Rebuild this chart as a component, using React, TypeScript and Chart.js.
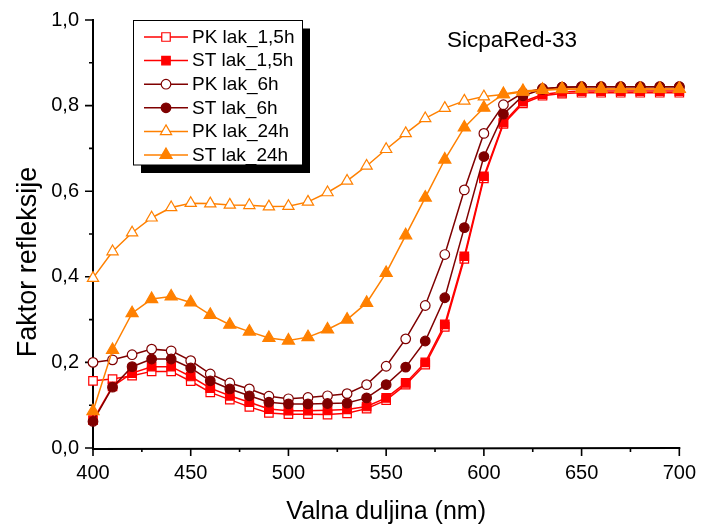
import React, { useEffect, useRef } from 'react';
import { Chart, registerables } from 'chart.js';
import { drawPoint } from 'chart.js/helpers';

Chart.register(...registerables);

// ---- data ----
const wavelengths = [400, 410, 420, 430, 440, 450, 460, 470, 480, 490, 500, 510, 520, 530, 540, 550, 560, 570, 580, 590, 600, 610, 620, 630, 640, 650, 660, 670, 680, 690, 700];

const pkLak15 = [0.157, 0.161, 0.169, 0.179, 0.179, 0.156, 0.130, 0.113, 0.096, 0.082, 0.079, 0.079, 0.078, 0.081, 0.092, 0.112, 0.148, 0.195, 0.283, 0.442, 0.630, 0.757, 0.805, 0.823, 0.828, 0.830, 0.830, 0.830, 0.830, 0.830, 0.830];
const stLak15 = [0.065, 0.144, 0.175, 0.190, 0.190, 0.167, 0.140, 0.122, 0.107, 0.091, 0.087, 0.087, 0.088, 0.090, 0.097, 0.117, 0.152, 0.200, 0.289, 0.448, 0.635, 0.760, 0.809, 0.826, 0.832, 0.834, 0.834, 0.834, 0.834, 0.834, 0.834];
const pkLak6 = [0.200, 0.206, 0.218, 0.231, 0.227, 0.204, 0.173, 0.152, 0.138, 0.121, 0.115, 0.118, 0.122, 0.127, 0.148, 0.191, 0.255, 0.333, 0.452, 0.603, 0.735, 0.802, 0.830, 0.840, 0.843, 0.844, 0.844, 0.844, 0.844, 0.844, 0.844];
const stLak6 = [0.062, 0.142, 0.190, 0.208, 0.208, 0.187, 0.157, 0.138, 0.122, 0.107, 0.103, 0.103, 0.104, 0.105, 0.117, 0.148, 0.189, 0.250, 0.351, 0.515, 0.681, 0.780, 0.823, 0.838, 0.843, 0.844, 0.844, 0.844, 0.844, 0.844, 0.844];
const pkLak24 = [0.397, 0.459, 0.503, 0.538, 0.562, 0.572, 0.571, 0.568, 0.567, 0.564, 0.565, 0.575, 0.597, 0.624, 0.659, 0.698, 0.735, 0.770, 0.794, 0.811, 0.821, 0.826, 0.832, 0.836, 0.838, 0.839, 0.839, 0.839, 0.839, 0.839, 0.839];
const stLak24 = [0.086, 0.229, 0.315, 0.348, 0.354, 0.340, 0.311, 0.288, 0.272, 0.257, 0.251, 0.259, 0.277, 0.300, 0.339, 0.409, 0.497, 0.585, 0.674, 0.749, 0.795, 0.827, 0.834, 0.837, 0.839, 0.839, 0.839, 0.839, 0.839, 0.839, 0.839];

const seriesLabels = ['PK lak_1,5h', 'ST lak_1,5h', 'PK lak_6h', 'ST lak_6h', 'PK lak_24h', 'ST lak_24h'];

const xMajorTicks = [400, 450, 500, 550, 600, 650, 700];
const xMinorTicks = [425, 475, 525, 575, 625, 675];
const yMajorTicks = [0, 0.2, 0.4, 0.6, 0.8, 1.0];
const yMinorTicks = [0.1, 0.3, 0.5, 0.7, 0.9];

const chartTitle = 'SicpaRed-33';
const xTitle = 'Valna duljina (nm)';
const yTitle = 'Faktor refleksije';

const FONT = "'Liberation Sans', Arial, Helvetica, sans-serif";
const RED = '#ff0000';
const MAROON = '#7f0000';
const ORANGE = '#ff8000';

const seriesValues = [pkLak15, stLak15, pkLak6, stLak6, pkLak24, stLak24];
const seriesStyle = [
  { color: RED, style: 'rect', radius: 6, filled: false },
  { color: RED, style: 'rect', radius: 6, filled: true },
  { color: MAROON, style: 'circle', radius: 4.8, filled: false },
  { color: MAROON, style: 'circle', radius: 4.8, filled: true },
  { color: ORANGE, style: 'triangle', radius: 6.5, filled: false },
  { color: ORANGE, style: 'triangle', radius: 7, filled: true },
];

const axesPlugin = {
  id: 'originAxes',
  beforeDatasetsDraw(chart: any) {
    const ctx = chart.ctx;
    const xs = chart.scales.x;
    const ys = chart.scales.y;
    const x0 = xs.getPixelForValue(400);
    const x1 = xs.getPixelForValue(700);
    const y0 = ys.getPixelForValue(0);
    const y1 = ys.getPixelForValue(1);
    ctx.save();
    ctx.strokeStyle = '#000';
    ctx.lineWidth = 2;
    ctx.beginPath();
    ctx.moveTo(x0, y1 - 1);
    ctx.lineTo(x0, y0 + 1);
    ctx.lineTo(x1 + 1, y0);
    ctx.stroke();
    ctx.lineWidth = 1.6;
    ctx.beginPath();
    xMajorTicks.forEach((v) => {
      const p = xs.getPixelForValue(v);
      ctx.moveTo(p, y0);
      ctx.lineTo(p, y0 + 8);
    });
    xMinorTicks.forEach((v) => {
      const p = xs.getPixelForValue(v);
      ctx.moveTo(p, y0);
      ctx.lineTo(p, y0 + 4);
    });
    yMajorTicks.forEach((v) => {
      const p = ys.getPixelForValue(v);
      ctx.moveTo(x0, p);
      ctx.lineTo(x0 - 8, p);
    });
    yMinorTicks.forEach((v) => {
      const p = ys.getPixelForValue(v);
      ctx.moveTo(x0, p);
      ctx.lineTo(x0 - 4, p);
    });
    ctx.stroke();

    // y axis title
    ctx.fillStyle = '#000';
    ctx.font = `27px ${FONT}`;
    ctx.textAlign = 'center';
    ctx.textBaseline = 'middle';
    ctx.translate(29, 262);
    ctx.rotate(-Math.PI / 2);
    ctx.fillText(yTitle, 0, 0);
    ctx.restore();
  },
};

const legendPlugin = {
  id: 'boxLegend',
  afterDatasetsDraw(chart: any) {
    const ctx = chart.ctx;
    const bx = 133.5, by = 20.5, bw = 169, bh = 144.5;
    ctx.save();
    ctx.fillStyle = '#000';
    ctx.fillRect(bx + 7.5, by + 8, bw, bh);
    ctx.fillStyle = '#fff';
    ctx.fillRect(bx, by, bw, bh);
    ctx.strokeStyle = '#000';
    ctx.lineWidth = 1;
    ctx.strokeRect(bx, by, bw, bh);
    chart.data.datasets.forEach((ds: any, i: number) => {
      const y = 37 + i * 23.6;
      ctx.strokeStyle = ds.borderColor;
      ctx.lineWidth = ds.borderWidth;
      ctx.beginPath();
      ctx.moveTo(144, y);
      ctx.lineTo(188, y);
      ctx.stroke();
      ctx.fillStyle = ds.pointBackgroundColor;
      ctx.strokeStyle = ds.pointBorderColor;
      ctx.lineWidth = ds.pointBorderWidth;
      drawPoint(ctx, { pointStyle: ds.pointStyle, radius: ds.pointRadius, borderWidth: ds.pointBorderWidth, rotation: 0 } as any, 166, y);
      ctx.fillStyle = '#000';
      ctx.font = `19px ${FONT}`;
      ctx.textAlign = 'left';
      ctx.textBaseline = 'middle';
      ctx.fillText(ds.label, 192, y + 0.5);
    });
    // chart title inside plot
    ctx.fillStyle = '#000';
    ctx.font = `22.5px ${FONT}`;
    ctx.textAlign = 'left';
    ctx.textBaseline = 'alphabetic';
    ctx.fillText(chartTitle, 447, 46.5);
    ctx.restore();
  },
};

export default function App() {
  const canvasRef = useRef<HTMLCanvasElement | null>(null);

  useEffect(() => {
    const canvas = canvasRef.current;
    if (!canvas) return;
    const datasets = seriesLabels.map((label, i) => {
      const st = seriesStyle[i];
      return {
        label,
        data: wavelengths.map((w, k) => ({ x: w, y: seriesValues[i][k] })),
        borderColor: st.color,
        backgroundColor: st.color,
        borderWidth: 1.5,
        pointStyle: st.style,
        pointRadius: st.radius,
        pointHoverRadius: st.radius,
        pointBackgroundColor: st.filled ? st.color : '#ffffff',
        pointBorderColor: st.color,
        pointBorderWidth: 1.2,
        tension: 0,
        fill: false,
        clip: false,
        order: 6 - i,
      };
    });

    const chart = new Chart(canvas, {
      type: 'line',
      data: { datasets },
      options: {
        animation: false,
        responsive: false,
        devicePixelRatio: 1,
        layout: { padding: { top: 20, right: 20, left: 0, bottom: 0 } },
        plugins: {
          legend: { display: false },
          tooltip: { enabled: false },
          title: { display: false },
        },
        scales: {
          x: {
            type: 'linear',
            min: 400,
            max: 700,
            afterFit: (s: any) => { s.height = 81; },
            afterBuildTicks: (s: any) => { s.ticks = xMajorTicks.map((v) => ({ value: v })); },
            ticks: {
              autoSkip: false,
              maxRotation: 0,
              padding: 5,
              color: '#000',
              font: { size: 20, family: FONT },
              callback: (v: any) => String(v),
            },
            grid: { display: true, drawOnChartArea: false, drawTicks: true, tickLength: 8, color: 'rgba(0,0,0,0)' },
            border: { display: false },
            title: {
              display: true,
              text: xTitle,
              color: '#000',
              font: { size: 25, family: FONT },
              padding: { top: 0, bottom: 2 },
            },
          },
          y: {
            type: 'linear',
            min: 0,
            max: 1,
            afterFit: (s: any) => { s.width = 93; },
            afterBuildTicks: (s: any) => { s.ticks = yMajorTicks.map((v) => ({ value: v })); },
            ticks: {
              autoSkip: false,
              padding: 6,
              color: '#000',
              font: { size: 20, family: FONT },
              callback: (v: any) => Number(v).toFixed(1).replace('.', ','),
            },
            grid: { display: true, drawOnChartArea: false, drawTicks: true, tickLength: 8, color: 'rgba(0,0,0,0)' },
            border: { display: false },
          },
        },
      } as any,
      plugins: [axesPlugin, legendPlugin],
    });
    return () => chart.destroy();
  }, []);

  return (
    <div style={{ position: 'absolute', left: 0, top: 0, width: 701, height: 529, background: '#fff' }}>
      <canvas ref={canvasRef} width={701} height={529} style={{ width: 701, height: 529, display: 'block' }} />
    </div>
  );
}
